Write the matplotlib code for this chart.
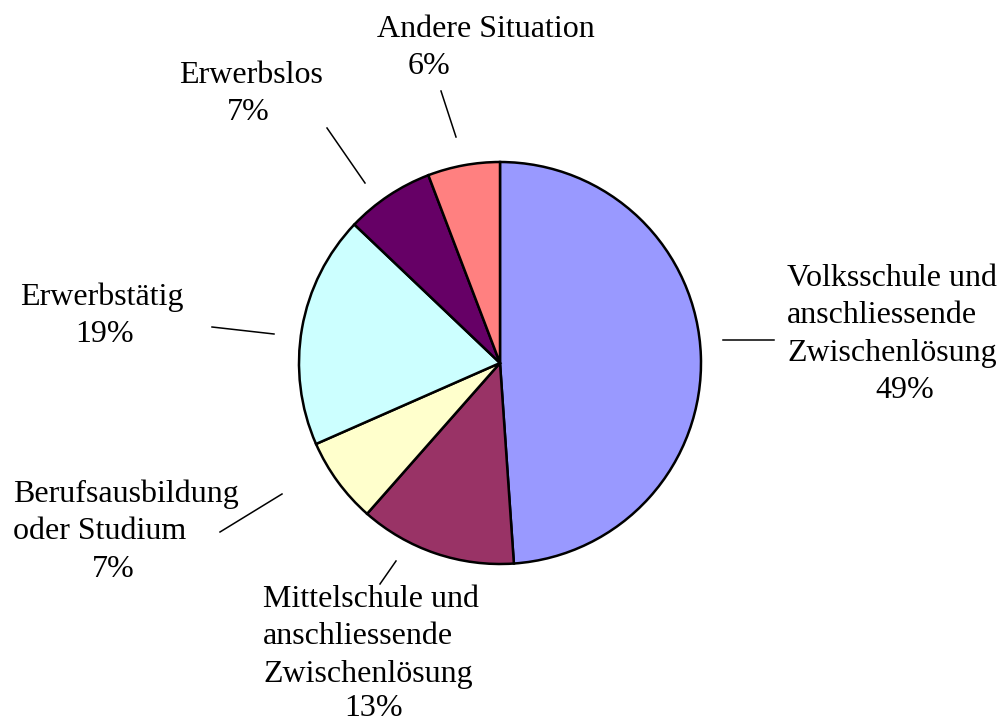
import matplotlib
matplotlib.use("agg")
import matplotlib.pyplot as plt

# Slice data, clockwise from 12 o'clock
labels = [
    "Volksschule und\nanschliessende\nZwischenlösung",
    "Mittelschule und\nanschliessende\nZwischenlösung",
    "Berufsausbildung\noder Studium",
    "Erwerbstätig",
    "Erwerbslos",
    "Andere Situation",
]
shares = [48.9, 12.6, 6.9, 18.7, 7.1, 5.8]
colors = ["#9999FF", "#993366", "#FFFFCC", "#CCFFFF", "#660066", "#FF8080"]

# Layout in pixel units (origin top left)
W, H = 1005, 722
# (left x of name, first baseline y, centre x of percentage)
label_pos = [
    (787, 286, 905),
    (263, 607, 374),
    (13, 502, 113),
    (20, 305, 105),
    (179, 83, 248),
    (377, 37, 429),
]
line_step = 37.3
leaders = [
    ((723, 340), (774, 340)),
    ((396, 561), (380, 584)),
    ((282, 494), (220, 532)),
    ((274, 334), (212, 327)),
    ((365, 183), (327, 128)),
    ((456, 137), (441, 91)),
]
center = (500, 363)
radius = 201

plt.rcParams["font.family"] = ["Liberation Serif", "DejaVu Serif"]

fig = plt.figure(figsize=(W / 100, H / 100), dpi=100)
ax = fig.add_axes([0, 0, 1, 1])

ax.pie(
    shares,
    colors=colors,
    startangle=90,
    counterclock=False,
    center=(center[0], H - center[1]),
    radius=radius,
    wedgeprops=dict(edgecolor="black", linewidth=1.8),
    frame=False,
)

# data labels: name lines left aligned, percentage centred below
for name, v, (x, y, px) in zip(labels, shares, label_pos):
    lines = name.split("\n")
    for i, line in enumerate(lines):
        ax.text(x, H - (y + i * line_step), line, ha="left", va="baseline",
                fontsize=23)
    yb = min(y + len(lines) * line_step, H - 6)
    ax.text(px, H - yb, f"{round(v)}%", ha="center", va="baseline",
            fontsize=23)

for (x0, y0), (x1, y1) in leaders:
    ax.plot([x0, x1], [H - y0, H - y1], color="black", linewidth=1.1)

ax.set_xlim(0, W)
ax.set_ylim(0, H)
ax.set_aspect("equal")
ax.axis("off")

fig.savefig("out.png", dpi=100)
